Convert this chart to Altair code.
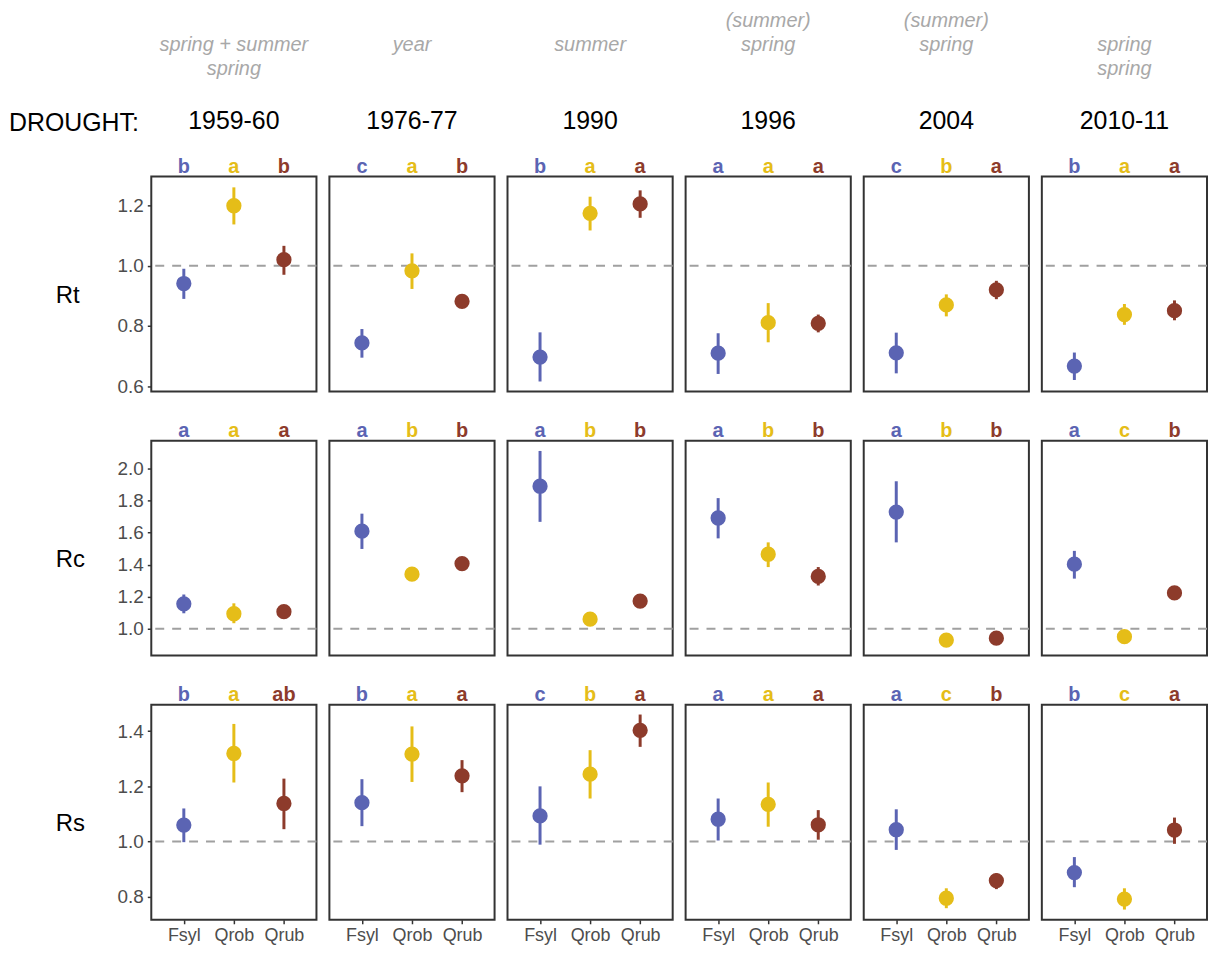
import altair as alt
import pandas as pd

# ---------------- data ----------------
droughts = ["1959-60", "1976-77", "1990", "1996", "2004", "2010-11"]
species = ["Fsyl", "Qrob", "Qrub"]
species_colors = ["#5b64b3", "#e5bd18", "#8d3b2b"]

season_line1 = ["", "", "", "(summer)", "(summer)", ""]
season_line2 = ["spring + summer", "year", "summer", "spring", "spring", "spring"]
season_line3 = ["spring", "", "", "", "", "spring"]

indices = ["Rt", "Rc", "Rs"]

# one inner list per drought, values for Fsyl, Qrob, Qrub
rt_mean = [[0.941, 1.199, 1.020], [0.744, 0.983, 0.882], [0.697, 1.174, 1.205],
           [0.710, 0.811, 0.809], [0.711, 0.870, 0.920], [0.667, 0.838, 0.851]]
rt_lo = [[0.890, 1.137, 0.970], [0.695, 0.923, 0.872], [0.616, 1.117, 1.159],
         [0.641, 0.746, 0.779], [0.643, 0.832, 0.889], [0.621, 0.804, 0.819]]
rt_hi = [[0.990, 1.260, 1.066], [0.790, 1.041, 0.892], [0.779, 1.229, 1.250],
         [0.776, 0.876, 0.838], [0.778, 0.905, 0.950], [0.712, 0.873, 0.885]]

rc_mean = [[1.156, 1.094, 1.107], [1.609, 1.341, 1.407], [1.889, 1.060, 1.173],
           [1.691, 1.465, 1.327], [1.728, 0.930, 0.942], [1.403, 0.951, 1.224]]
rc_lo = [[1.097, 1.035, 1.080], [1.498, 1.330, 1.390], [1.667, 1.050, 1.160],
         [1.564, 1.385, 1.270], [1.539, 0.920, 0.930], [1.313, 0.940, 1.210]]
rc_hi = [[1.214, 1.159, 1.130], [1.718, 1.355, 1.425], [2.109, 1.070, 1.185],
         [1.815, 1.539, 1.385], [1.920, 0.940, 0.955], [1.486, 0.960, 1.235]]

rs_mean = [[1.060, 1.319, 1.138], [1.141, 1.317, 1.238], [1.093, 1.244, 1.403],
           [1.081, 1.135, 1.061], [1.043, 0.795, 0.859], [0.888, 0.792, 1.042]]
rs_lo = [[0.998, 1.214, 1.045], [1.056, 1.216, 1.179], [0.989, 1.156, 1.343],
         [1.004, 1.054, 1.007], [0.970, 0.759, 0.828], [0.835, 0.754, 0.992]]
rs_hi = [[1.120, 1.426, 1.228], [1.226, 1.417, 1.295], [1.200, 1.331, 1.460],
         [1.156, 1.214, 1.114], [1.117, 0.831, 0.885], [0.944, 0.831, 1.087]]

rt_letters = [["b", "a", "b"], ["c", "a", "b"], ["b", "a", "a"],
              ["a", "a", "a"], ["c", "b", "a"], ["b", "a", "a"]]
rc_letters = [["a", "a", "a"], ["a", "b", "b"], ["a", "b", "b"],
              ["a", "b", "b"], ["a", "b", "b"], ["a", "c", "b"]]
rs_letters = [["b", "a", "ab"], ["b", "a", "a"], ["c", "b", "a"],
              ["a", "a", "a"], ["a", "c", "b"], ["b", "c", "a"]]

rt_ticks = [0.6, 0.8, 1.0, 1.2]
rc_ticks = [1.0, 1.2, 1.4, 1.6, 1.8, 2.0]
rs_ticks = [0.8, 1.0, 1.2, 1.4]

means = {"Rt": rt_mean, "Rc": rc_mean, "Rs": rs_mean}
lows = {"Rt": rt_lo, "Rc": rc_lo, "Rs": rs_lo}
highs = {"Rt": rt_hi, "Rc": rc_hi, "Rs": rs_hi}
letters = {"Rt": rt_letters, "Rc": rc_letters, "Rs": rs_letters}
ticks = {"Rt": rt_ticks, "Rc": rc_ticks, "Rs": rs_ticks}
domains = {"Rt": [0.583, 1.296], "Rc": [0.833, 2.173], "Rs": [0.717, 1.495]}

# ---------------- style ----------------
FONT = "Liberation Sans"
W, H = 166, 216
TICK_COLOR = "#333333"
LABEL_COLOR = "#4d4d4d"
SEASON_COLOR = "#a8a8a8"

xsc = alt.Scale(domain=species, type="point", padding=0.65)
csc = alt.Scale(domain=species, range=species_colors)


def panel(ri, ci):
    idx = indices[ri]
    df = pd.DataFrame({
        "species": species,
        "mean": means[idx][ci],
        "lo": lows[idx][ci],
        "hi": highs[idx][ci],
        "letter": letters[idx][ci],
    })
    ysc = alt.Scale(domain=domains[idx], nice=False, zero=False)
    if ci == 0:
        yaxis = alt.Axis(values=ticks[idx], format=".1f", title=None, grid=False,
                         domain=False, ticks=True, tickSize=4, tickWidth=1.5,
                         tickColor=TICK_COLOR, labelFontSize=19,
                         labelColor=LABEL_COLOR, labelPadding=4, labelFont=FONT)
    else:
        yaxis = None
    if ri == 2:
        xaxis = alt.Axis(title=None, labelAngle=0, grid=False, domain=False,
                         ticks=True, tickSize=4, tickWidth=1.5,
                         tickColor=TICK_COLOR, labelFontSize=18,
                         labelColor=LABEL_COLOR, labelPadding=3, labelFont=FONT)
    else:
        xaxis = None

    def X():
        return alt.X("species:N", scale=xsc, sort=species, axis=xaxis)

    def Y(f):
        return alt.Y(f"{f}:Q", scale=ysc, axis=yaxis)

    col = alt.Color("species:N", scale=csc, legend=None)

    ref = alt.Chart(pd.DataFrame({"ref": [1.0]})).mark_rule(
        color="#a0a0a0", strokeWidth=2, strokeDash=[9, 8]
    ).encode(y=Y("ref"))
    err = alt.Chart(df).mark_rule(strokeWidth=3).encode(
        x=X(), y=Y("lo"), y2=alt.Y2("hi:Q"), color=col)
    pts = alt.Chart(df).mark_circle(size=235, opacity=1).encode(
        x=X(), y=Y("mean"), color=col)
    let = alt.Chart(df).mark_text(
        fontWeight="bold", fontSize=20, baseline="alphabetic", font=FONT
    ).encode(x=X(), y=alt.value(-4), text="letter:N", color=col)
    layers = [ref, err, pts, let]

    if ci == 0:
        layers.append(
            alt.Chart(pd.DataFrame({"lab": [idx]})).mark_text(
                fontSize=24, align="left", baseline="middle", color="black", font=FONT
            ).encode(x=alt.value(-96), y=alt.value(120), text="lab:N"))
    if ri == 0:
        layers.append(
            alt.Chart(pd.DataFrame({"d": [droughts[ci]]})).mark_text(
                fontSize=25, align="center", baseline="alphabetic", color="black", font=FONT
            ).encode(x=alt.value(W / 2), y=alt.value(-48), text="d:N"))
        for li, lines in enumerate([season_line1, season_line2, season_line3]):
            if lines[ci]:
                layers.append(
                    alt.Chart(pd.DataFrame({"s": [lines[ci]]})).mark_text(
                        fontSize=20, fontStyle="italic", align="center",
                        baseline="alphabetic", color=SEASON_COLOR, font=FONT
                    ).encode(x=alt.value(W / 2), y=alt.value(-150 + 24 * li), text="s:N"))
        if ci == 0:
            layers.append(
                alt.Chart(pd.DataFrame({"t": ["DROUGHT:"]})).mark_text(
                    fontSize=25, align="left", baseline="alphabetic", color="black", font=FONT
                ).encode(x=alt.value(-143), y=alt.value(-46), text="t:N"))

    return alt.layer(*layers).properties(width=W, height=H)


panels = [panel(ri, ci) for ri in range(3) for ci in range(6)]

chart = alt.concat(
    *panels, columns=6, spacing={"row": 49.5, "column": 13}, bounds="flush"
).properties(
    padding={"left": 0, "top": 0, "right": 0, "bottom": 0}
).configure(
    font=FONT, background="white"
).configure_view(
    stroke="#333333", strokeWidth=2
)

chart.save("out.html", embed_options={"renderer": "svg", "actions": False})
